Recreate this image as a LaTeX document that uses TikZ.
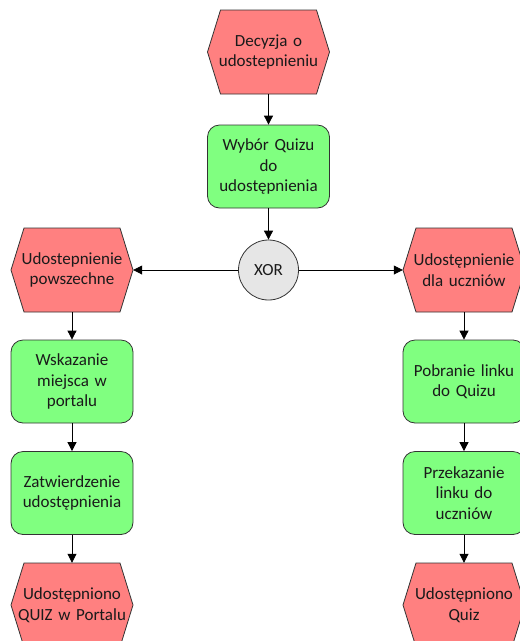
\documentclass[tikz,border=0pt]{standalone}
\usepackage{fontspec}
\setmainfont{Carlito}
\usetikzlibrary{arrows.meta}
\definecolor{evfill}{HTML}{FF8080}
\definecolor{fnfill}{HTML}{80FF80}
\definecolor{opfill}{HTML}{E6E6E6}
\definecolor{edgecol}{HTML}{333333}
\definecolor{txtcol}{HTML}{1A1A1A}
\tikzset{
  evline/.style={draw=edgecol, line width=0.8pt, fill=evfill},
  evtext/.style={minimum width=122pt, minimum height=84pt, inner sep=0pt, align=center, text width=116pt, text=txtcol, font=\fontsize{17}{20.5}\selectfont},
  func/.style={draw=edgecol, line width=0.8pt, fill=fnfill, rounded corners=12pt, minimum width=122pt, minimum height=83pt, inner sep=0pt, align=center, text width=116pt, text=txtcol, font=\fontsize{17}{20.5}\selectfont},
  oper/.style={draw=edgecol, line width=0.8pt, fill=opfill, circle, minimum size=60pt, inner sep=0pt, text=txtcol, font=\fontsize{17}{20.5}\selectfont},
  flow/.style={draw=black, line width=0.8pt, -{Triangle[length=9pt,width=9pt]}}
}
\newcommand{\evtnode}[4]{%
  \path[evline] (#2-61,#3) -- (#2-48,#3-42) -- (#2+48,#3-42) -- (#2+61,#3) -- (#2+48,#3+42) -- (#2-48,#3+42) -- cycle;
  \node[evtext] (#1) at (#2,#3) {#4};}
\begin{document}
\begin{tikzpicture}[x=1pt,y=-1pt]
\useasboundingbox (0,0) rectangle (520,641);
\clip (0,0) rectangle (520,641);
\evtnode{e1}{268.5}{52}{Decyzja o\\udostepnieniu}
\node[func] (f1) at (268.5,166.5) {Wybór Quizu\\do\\udostępnienia};
\node[oper] (x) at (268.5,270) {XOR};
\evtnode{e2}{72}{270}{Udostepnienie\\powszechne}
\evtnode{e3}{464}{270}{Udostępnienie\\dla uczniów}
\node[func] (f2) at (72,381.5) {Wskazanie\\miejsca w\\portalu};
\node[func] (f3) at (72,493) {Zatwierdzenie\\udostępnienia};
\evtnode{e4}{72}{605}{Udostępniono\\QUIZ w Portalu}
\node[func] (f4) at (464,381.5) {Pobranie linku\\do Quizu};
\node[func] (f5) at (464,493) {Przekazanie\\linku do\\uczniów};
\evtnode{e5}{464}{605}{Udostępniono\\Quiz}
\draw[flow] (e1.south) -- (f1.north);
\draw[flow] (f1.south) -- (x.north);
\draw[flow] (x.west) -- (e2.east);
\draw[flow] (x.east) -- (e3.west);
\draw[flow] (e2.south) -- (f2.north);
\draw[flow] (f2.south) -- (f3.north);
\draw[flow] (f3.south) -- (e4.north);
\draw[flow] (e3.south) -- (f4.north);
\draw[flow] (f4.south) -- (f5.north);
\draw[flow] (f5.south) -- (e5.north);
\end{tikzpicture}
\end{document}
